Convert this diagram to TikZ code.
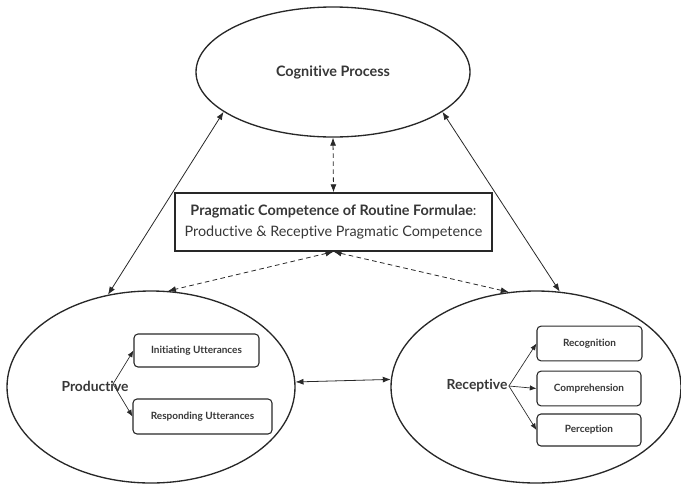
\documentclass[tikz,border=0pt]{standalone}
\usepackage{fontspec}
\setmainfont{Lato}[Ligatures=NoCommon]
\usetikzlibrary{shapes.geometric,arrows.meta}

\definecolor{inkgray}{RGB}{40,40,40}
\definecolor{txtgray}{RGB}{55,55,55}

\tikzset{every picture/.style={line width=0.75pt}}
\tikzset{
  bigell/.style={ellipse, draw=inkgray, line width=1pt, inner sep=0pt, text=txtgray},
  subbox/.style={draw=inkgray, rounded corners=3pt, line width=0.8pt, inner sep=0pt, text=txtgray,
    font=\fontsize{7.5}{9}\selectfont\bfseries},
  conn/.style={draw=inkgray, line width=0.6pt, {Latex[length=6pt,width=4.5pt]}-{Latex[length=6pt,width=4.5pt]}},
  dashconn/.style={conn, dash pattern=on 3.5pt off 2.5pt},
  fork/.style={draw=inkgray, line width=0.5pt, -{Latex[length=5pt,width=4pt]}}
}

\begin{document}
\begin{tikzpicture}[x=0.75pt,y=0.75pt,yscale=-1,xscale=1]
        \useasboundingbox (0,0) rectangle (681,486);

        %Shape: Ellipse [id:cognitive]
        \node [bigell, minimum width=205.5pt, minimum height=97.5pt, font=\fontsize{10.8}{12}\selectfont\bfseries] (cog) at (333,72) {Cognitive Process};
        %Shape: Rectangle [id:competence]
        \node [draw=inkgray, line width=1pt, minimum width=237.75pt, minimum height=43.5pt, inner sep=0pt, align=center, text=txtgray,
          font=\fontsize{10.8}{15.5}\selectfont] (comp) at (333.5,222)
          {\textbf{Pragmatic Competence of Routine Formulae}:\\Productive \& Receptive Pragmatic Competence};
        %Shape: Ellipse [id:productive]
        \node [bigell, minimum width=216pt, minimum height=144pt] (prod) at (151,387) {};
        %Shape: Ellipse [id:receptive]
        \node [bigell, minimum width=217.5pt, minimum height=144pt] (rec) at (536,387) {};

        % Text Node
        \node [text=txtgray, inner sep=0.75pt, font=\fontsize{10.4}{12}\selectfont\bfseries] (prodlbl) at (95,386) {Productive};
        % Text Node
        \node [text=txtgray, inner sep=0.75pt, font=\fontsize{10.4}{12}\selectfont\bfseries] (reclbl) at (477,386) {Receptive};
        \coordinate (prodfork) at (113,384);

        %Shape: Rounded Rect [id:initiating]
        \node [subbox, minimum width=93.75pt, minimum height=24.75pt] (init) at (196.5,350.5) {Initiating Utterances};
        %Shape: Rounded Rect [id:responding]
        \node [subbox, minimum width=104.25pt, minimum height=26.25pt] (resp) at (202.5,416.5) {Responding Utterances};
        %Shape: Rounded Rect [id:recognition]
        \node [subbox, minimum width=78.75pt, minimum height=26pt] (recog) at (589.5,343.5) {Recognition};
        %Shape: Rounded Rect [id:comprehension]
        \node [subbox, minimum width=78pt, minimum height=26pt] (compr) at (589,388.5) {Comprehension};
        %Shape: Rounded Rect [id:perception]
        \node [subbox, minimum width=78pt, minimum height=24pt] (perc) at (589,430) {Perception};

        %Straight Lines [id:cog-prod]
        \draw [conn] (cog.200) -- (prod.115);
        %Straight Lines [id:cog-rec]
        \draw [conn] (cog.340) -- (rec.76);
        %Straight Lines [id:prod-rec]
        \draw [conn] (prod.2.8) -- (rec.177.2);
        %Dashed Lines [id:cog-comp]
        \draw [dashconn] (cog.south) -- (comp.north);
        %Dashed Lines [id:comp-prod]
        \draw [dashconn] (comp.south) -- (prod.80.6);
        %Dashed Lines [id:comp-rec]
        \draw [dashconn] (comp.south) -- (rec.106.6);

        %Curve Lines [id:forks]
        \draw [fork] (prodfork) -- (init.west);
        \draw [fork] (prodfork) -- (resp.west);
        \draw [fork] (reclbl.east) -- (recog.west);
        \draw [fork] (reclbl.east) -- (compr.west);
        \draw [fork] (reclbl.east) -- (perc.west);

    \end{tikzpicture}
\end{document}
